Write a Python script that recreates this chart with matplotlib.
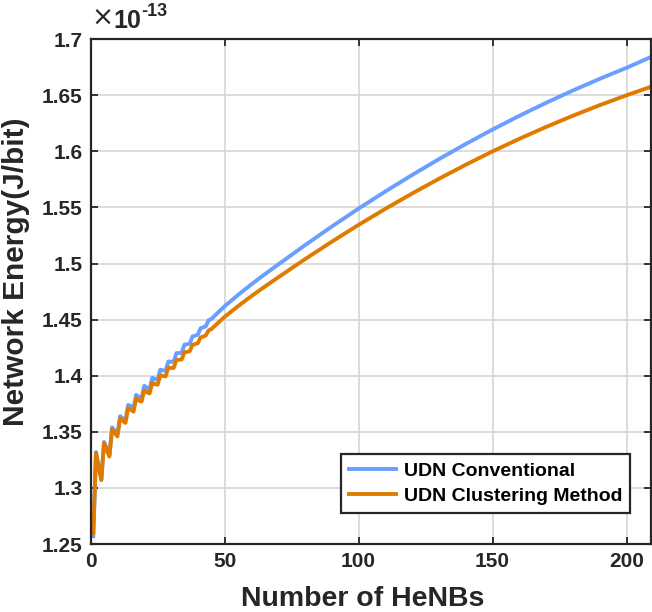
import matplotlib
matplotlib.use("Agg")
import matplotlib.pyplot as plt

plt.rcParams['font.family'] = ['Liberation Sans', 'DejaVu Sans']
plt.rcParams['font.weight'] = 'bold'

# HeNB count and network energy (units of 1e-13 J/bit)
henbs = [1, 2, 3, 4, 5, 6, 7, 8, 9, 10, 11, 12, 13, 14, 15, 16, 17, 18, 19, 20,
         21, 22, 23, 24, 25, 26, 27, 28, 29, 30, 31, 32, 33, 34, 35, 36, 37, 38, 39, 40,
         41, 42, 43, 44, 45, 50, 55, 60, 65, 70, 80, 90, 100, 110, 120, 130, 140, 150,
         160, 170, 180, 190, 200, 209]

udn_conventional = [1.257, 1.332, 1.319, 1.308, 1.341, 1.335, 1.329, 1.354, 1.351, 1.348,
                    1.364, 1.362, 1.360, 1.374, 1.373, 1.371, 1.383, 1.381, 1.380, 1.3910,
                    1.3894, 1.3883, 1.3982, 1.3971, 1.3965, 1.4054, 1.4048, 1.4045, 1.4128, 1.4125,
                    1.4125, 1.4202, 1.4202, 1.4206, 1.4278, 1.4281, 1.4287, 1.4351, 1.4357, 1.4366,
                    1.4423, 1.4431, 1.4442, 1.4494, 1.4505, 1.4620, 1.4720, 1.4815, 1.4905, 1.4992,
                    1.5164, 1.5330, 1.5490, 1.5643, 1.5790, 1.5931, 1.6066, 1.6195, 1.6317, 1.6433,
                    1.6543, 1.6647, 1.6745, 1.6840]

udn_clustering = [1.260, 1.331, 1.318, 1.307, 1.340, 1.334, 1.328, 1.352, 1.349, 1.346,
                  1.362, 1.360, 1.358, 1.371, 1.370, 1.368, 1.380, 1.378, 1.377, 1.3870,
                  1.3854, 1.3843, 1.3937, 1.3926, 1.3920, 1.4004, 1.3998, 1.3995, 1.4073, 1.4070,
                  1.4070, 1.4142, 1.4142, 1.4146, 1.4210, 1.4213, 1.4219, 1.4276, 1.4282, 1.4291,
                  1.4341, 1.4349, 1.4360, 1.4404, 1.4415, 1.4525, 1.4620, 1.4710, 1.4795, 1.4877,
                  1.5039, 1.5195, 1.5345, 1.5488, 1.5625, 1.5756, 1.5881, 1.6000, 1.6112, 1.6218,
                  1.6318, 1.6412, 1.6500, 1.6575]

yticks = [1.25, 1.3, 1.35, 1.4, 1.45, 1.5, 1.55, 1.6, 1.65, 1.7]
yticklabels = ['1.25', '1.3', '1.35', '1.4', '1.45', '1.5', '1.55', '1.6', '1.65', '1.7']
xticks = [0, 50, 100, 150, 200]

fig = plt.figure(figsize=(6.52, 6.12), dpi=100)
ax = fig.add_axes([0.139, 0.111, 0.859, 0.825])

ax.plot(henbs, udn_conventional, color='#6A9EFF', lw=2.8, label='UDN Conventional')
ax.plot(henbs, udn_clustering, color='#E07B00', lw=2.8, label='UDN Clustering Method')

ax.set_xlim(0, 209)
ax.set_ylim(1.25, 1.7)
ax.set_xticks(xticks)
ax.set_yticks(yticks)
ax.set_yticklabels(yticklabels)
ax.tick_params(direction='in', length=5, width=1.3, top=True, right=True,
               labelsize=15, colors='#262626', pad=6)
for lab in ax.get_xticklabels() + ax.get_yticklabels():
    lab.set_fontweight('bold')
for s in ax.spines.values():
    s.set_linewidth(1.6)
    s.set_color('#262626')
ax.grid(True, color='#d9d9d9', lw=1.3)
ax.set_axisbelow(True)

ax.set_xlabel('Number of HeNBs', fontsize=20.5, fontweight='bold', color='#262626')
ax.xaxis.set_label_coords(0.485, -0.083)
ax.set_ylabel('Network Energy(J/bit)', fontsize=21.5, fontweight='bold', color='#262626')
ax.yaxis.set_label_coords(-0.108, 0.54)

# exponent label, MATLAB style
t_x = ax.text(0.002, 1.014, '\u00d7', transform=ax.transAxes, fontsize=19,
              family='DejaVu Sans', fontweight='normal', color='#262626',
              ha='left', va='bottom')
t_10 = ax.annotate('10', xy=(1.0, 0.0), xycoords=t_x, xytext=(0, -1), textcoords='offset points',
                   fontsize=18, fontweight='bold', color='#262626', ha='left', va='bottom')
ax.annotate('-13', xy=(1.0, 0.55), xycoords=t_10, fontsize=13, fontweight='bold',
            color='#262626', ha='left', va='bottom')

leg = ax.legend(loc='lower right', bbox_to_anchor=(0.963, 0.062), fancybox=False,
                edgecolor='#262626', framealpha=1, fontsize=14, handlelength=2.4,
                borderpad=0.4, labelspacing=0.4, handletextpad=0.4, borderaxespad=0)
leg.get_frame().set_linewidth(1.6)
for t in leg.get_texts():
    t.set_fontweight('bold')

fig.savefig('out.png', dpi=100)
